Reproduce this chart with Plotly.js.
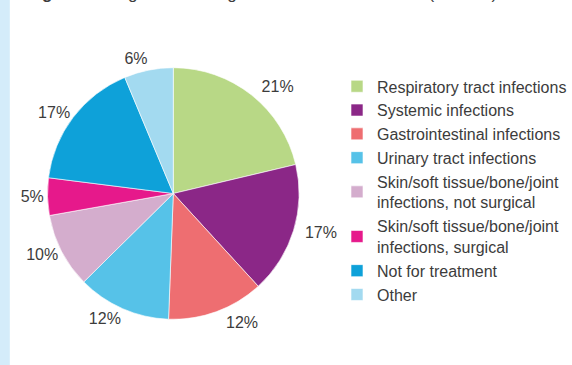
<!DOCTYPE html>
<html>
<head>
<meta charset="utf-8">
<script src="https://cdn.plot.ly/plotly-3.0.1.min.js"></script>
<style>html,body{margin:0;padding:0;background:#fff;}#chart{width:572px;height:365px;}</style>
</head>
<body>
<div id="chart"></div>
<script>
const categories = [
  "Respiratory tract infections",
  "Systemic infections",
  "Gastrointestinal infections",
  "Urinary tract infections",
  "Skin/soft tissue/bone/joint<br>infections, not surgical",
  "Skin/soft tissue/bone/joint<br>infections, surgical",
  "Not for treatment",
  "Other"
];
const shares = [21.3, 16.9, 12.4, 12.0, 9.6, 4.8, 16.7, 6.3];
const colors = ["#b8d886", "#8b2787", "#ee6e71", "#56c2e8", "#d4adcd", "#e6198b", "#0ea1d9", "#a3daf0"];
const titleText = "<b>Figure 2.</b> Diagnoses for registered antibiotic courses (n=5355).";

const fontFam = "Liberation Sans, Arial, sans-serif";

// Main pie: the coloured slices and the legend
const pieTrace = {
  type: "pie",
  labels: categories,
  values: shares,
  sort: false,
  direction: "clockwise",
  rotation: 0,
  marker: {colors: colors, line: {color: "#ffffff", width: 0.6}},
  textinfo: "none",
  hoverinfo: "label+percent",
  domain: {x: [0.0848, 0.5341], y: [0.1178, 0.8219]}
};

// Same data, slightly larger transparent ring that only carries the outside percentage labels
const labelTrace = {
  type: "pie",
  labels: categories,
  values: shares,
  sort: false,
  direction: "clockwise",
  rotation: 0,
  showlegend: false,
  marker: {colors: categories.map(() => "rgba(0,0,0,0)"), line: {width: 0}},
  textposition: "outside",
  texttemplate: "%{percent:.0%}",
  outsidetextfont: {size: 16, color: "#3c3c3c", family: fontFam},
  hoverinfo: "skip",
  domain: {x: [0.0857, 0.5472], y: [0.1082, 0.8315]}
};

const layout = {
  width: 572,
  height: 365,
  margin: {l: 0, r: 0, t: 0, b: 0},
  paper_bgcolor: "#ffffff",
  font: {family: fontFam, color: "#3c3c3c", size: 16},
  showlegend: true,
  legend: {
    x: 0.602, xanchor: "left",
    y: 0.81, yanchor: "top",
    font: {size: 16, color: "#3c3c3c"},
    bgcolor: "rgba(0,0,0,0)",
    traceorder: "normal"
  },
  shapes: [{
    type: "rect", xref: "paper", yref: "paper",
    x0: 0, x1: 0.0175, y0: 0, y1: 1,
    fillcolor: "#d4ecfa", line: {width: 0}, layer: "below"
  }],
  annotations: [{
    text: titleText, xref: "paper", yref: "paper",
    x: 0.045, xanchor: "left", y: 1, yanchor: "middle", yshift: 7,
    showarrow: false, font: {size: 17, color: "#3c3c3c"}
  }]
};

Plotly.newPlot("chart", [pieTrace, labelTrace], layout, {displayModeBar: false, staticPlot: true});
</script>
</body>
</html>
